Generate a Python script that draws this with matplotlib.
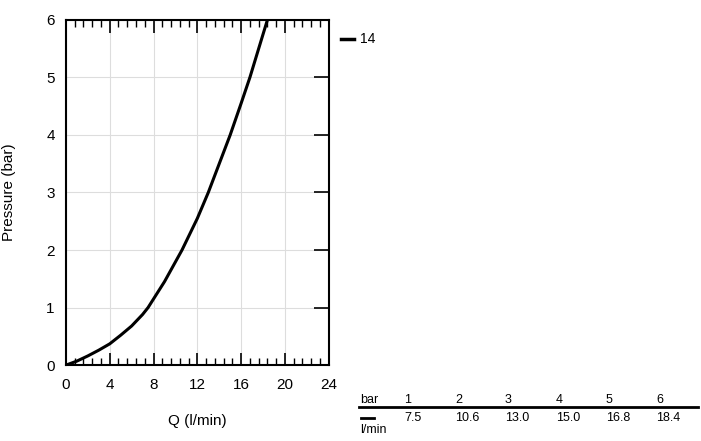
import matplotlib.pyplot as plt
from matplotlib.ticker import MultipleLocator

# curve
flow = [0, 1, 2, 3, 4, 5, 6, 7, 7.5, 9, 10.6, 12, 13, 14, 15, 16, 16.8, 17.6, 18.4]
pressure = [0, 0.07, 0.16, 0.26, 0.37, 0.52, 0.68, 0.88, 1.0, 1.45, 2.0, 2.55, 3.0, 3.5, 4.0, 4.55, 5.0, 5.5, 6.0]

table_bar = ['1', '2', '3', '4', '5', '6']
table_flow = ['7.5', '10.6', '13.0', '15.0', '16.8', '18.4']

plt.rcParams['font.family'] = ['Liberation Sans', 'DejaVu Sans']
fig = plt.figure(figsize=(7.01, 4.41), dpi=100)
ax = fig.add_axes([0.094, 0.172, 0.375, 0.783])
ax.plot(flow, pressure, color='black', linewidth=2.2)
ax.set_xlim(0, 24)
ax.set_ylim(0, 6)
ax.xaxis.set_major_locator(MultipleLocator(4))
ax.xaxis.set_minor_locator(MultipleLocator(0.8))
ax.yaxis.set_major_locator(MultipleLocator(1))
ax.grid(True, color='#dddddd', linewidth=0.8)
ax.tick_params(which='both', direction='in', top=True, bottom=True, left=False, right=True,
               labelsize=11, colors='black')
ax.tick_params(axis='x', pad=9)
ax.tick_params(axis='y', pad=8)
ax.tick_params(which='major', length=9, width=1.2)
ax.tick_params(which='minor', length=5, width=1)
ax.tick_params(axis='y', which='major', length=11)
for s in ax.spines.values():
    s.set_linewidth(1.5)
ax.set_xlabel('Q (l/min)', fontsize=11, labelpad=16)
ax.set_ylabel('Pressure (bar)', fontsize=11, labelpad=22)

# legend entry
fig.add_artist(plt.Line2D([341 / 701, 354 / 701], [1 - 39 / 441] * 2, color='black', linewidth=2.5))
fig.text(360 / 701, 1 - 39 / 441, '14', fontsize=10, va='center')

# table
fig.add_artist(plt.Line2D([359 / 701, 698 / 701], [1 - 407 / 441] * 2, color='black', linewidth=2))
fig.add_artist(plt.Line2D([361 / 701, 374 / 701], [1 - 418 / 441] * 2, color='black', linewidth=2))
fig.text(360 / 701, 1 - 400 / 441, 'bar', fontsize=9, va='center')
fig.text(360 / 701, 1 - 430 / 441, 'l/min', fontsize=9, va='center')
xs = [404, 455, 505, 556, 606, 656]
for x, b, q in zip(xs, table_bar, table_flow):
    fig.text(x / 701, 1 - 400 / 441, b, fontsize=9, va='center')
    fig.text(x / 701, 1 - 418 / 441, q, fontsize=9, va='center')

fig.savefig('out.png', dpi=100)
